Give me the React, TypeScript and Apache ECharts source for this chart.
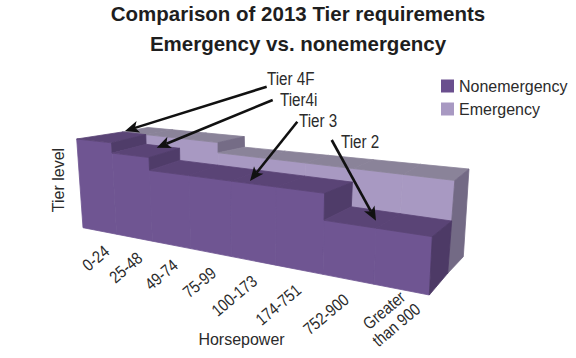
import React, { useEffect, useRef } from "react";
import * as echarts from "echarts";

const titleLines = ["Comparison of 2013 Tier requirements", "Emergency vs. nonemergency"];
const horsepower = ["0-24", "25-48", "49-74", "75-99", "100-173", "174-751", "752-900", "Greater\nthan 900"];
const nonemergency = [4, 3.55, 3, 3, 3, 3, 2, 2];
const emergency = [4, 4, 4, 3.55, 3.55, 3.55, 3.55, 3.55];
const LEVEL_MAX = 4;
const FONT = "'Liberation Sans', Arial, sans-serif";
const INK = "#2b2b2b";

// perspective of the three depth planes (front of the first block, shared middle wall, back of the second block)
type P = [number, number];
const planes: { warp: (t: number) => number; a: P; b: P; c: P; d: P }[] = [
  { warp: (t) => t / (1.33 - 0.33 * t), a: [83, 227.7], b: [76.7, 139], c: [429.3, 295], d: [435.3, 178.4] },
  { warp: (t) => Math.pow(t, 1.27), a: [125.5, 217], b: [122, 132], c: [447.7, 273.3], d: [455.7, 168.7] },
  { warp: (t) => Math.pow(t, 1.23), a: [154, 220], b: [148, 127.5], c: [463.3, 256.7], d: [469.7, 157.9] },
];
const project = (depth: number, t: number, v: number): P => {
  const k = planes[depth];
  const f = k.warp(t);
  const l = [k.a[0] + (k.b[0] - k.a[0]) * v, k.a[1] + (k.b[1] - k.a[1]) * v];
  const r = [k.c[0] + (k.d[0] - k.c[0]) * v, k.c[1] + (k.d[1] - k.c[1]) * v];
  return [l[0] + (r[0] - l[0]) * f, l[1] + (r[1] - l[1]) * f];
};

const blockItem = (near: number, far: number, col: { front: string; top: string; riser: string; side: string }) => (params: any, api: any) => {
  const cs = params.coordSys;
  const half = api.size([1, 0])[0] / 2;
  const base = cs.y + cs.height;
  const toT = (px: number) => (px - cs.x) / cs.width;
  const toV = (py: number) => (base - py) / cs.height;
  const i = api.value(0);
  const cx = api.coord([i, 0])[0];
  const t0 = toT(cx - half);
  const t1 = toT(cx + half);
  const v = toV(api.coord([i, api.value(1)])[1]);
  const nv = toV(api.coord([i, api.value(2)])[1]);
  const poly = (points: P[], fill: string) => ({
    type: "polygon",
    shape: { points },
    style: { fill, stroke: fill, lineWidth: 0.8 },
  });
  const children: any[] = [
    poly([project(near, t0, 0), project(near, t1, 0), project(near, t1, v), project(near, t0, v)], col.front),
    poly([project(near, t0, v), project(near, t1, v), project(far, t1, v), project(far, t0, v)], col.top),
  ];
  if (nv < v && nv > 0) {
    children.push(poly([project(near, t1, v), project(far, t1, v), project(far, t1, nv), project(near, t1, nv)], col.riser));
  }
  if (nv === 0) {
    children.push(poly([project(near, t1, v), project(far, t1, v), project(far, t1, 0), project(near, t1, 0)], col.side));
  }
  return { type: "group", children };
};

const labelItem = (params: any, api: any) => {
  const cs = params.coordSys;
  const i = api.value(0);
  const t = (api.coord([i, 0])[0] - cs.x) / cs.width;
  const [bx, by] = project(0, t, 0);
  const text = horsepower[i];
  const two = text.includes("\n");
  return {
    type: "text",
    x: two ? bx - 11 : bx + 12 * (1 - t) - 4,
    y: two ? by + 28 : by + 18,
    rotation: (40 * Math.PI) / 180,
    scaleX: 0.85,
    style: { text, align: two ? "center" : "right", verticalAlign: "middle", font: `17px ${FONT}`, fill: INK, lineHeight: 19 },
  };
};

const arrows: { label: string; tx: number; ty: number; from: P; to: P }[] = [
  { label: "Tier 4F", tx: 267, ty: 78, from: [266.7, 86.7], to: [125, 131] },
  { label: "Tier4i", tx: 280, ty: 99, from: [272.7, 100], to: [156.7, 147.7] },
  { label: "Tier 3", tx: 299, ty: 120, from: [297.3, 121.7], to: [250, 181] },
  { label: "Tier 2", tx: 341, ty: 141, from: [331.7, 140], to: [376, 220.7] },
];

const arrowGraphics = () => {
  const out: any[] = [];
  arrows.forEach(({ label, tx, ty, from, to }) => {
    const dx = to[0] - from[0];
    const dy = to[1] - from[1];
    const len = Math.hypot(dx, dy);
    const ux = dx / len;
    const uy = dy / len;
    const head = 14;
    const wing = 6;
    const neck: P = [to[0] - ux * head * 0.75, to[1] - uy * head * 0.75];
    out.push({ type: "line", silent: true, shape: { x1: from[0], y1: from[1], x2: neck[0], y2: neck[1] }, style: { stroke: "#111", lineWidth: 2.6 } });
    out.push({
      type: "polygon",
      silent: true,
      shape: {
        points: [
          to,
          [to[0] - ux * head - uy * wing, to[1] - uy * head + ux * wing],
          neck,
          [to[0] - ux * head + uy * wing, to[1] - uy * head - ux * wing],
        ],
      },
      style: { fill: "#111" },
    });
    out.push({ type: "text", x: tx, y: ty, scaleX: 0.8, silent: true, style: { text: label, font: `19px ${FONT}`, fill: INK, align: "left", verticalAlign: "middle" } });
  });
  return out;
};

const rows = (vals: number[]) => vals.map((v, i) => [i, v, i + 1 < vals.length ? vals[i + 1] : 0]);

export default function App() {
  const ref = useRef<HTMLDivElement>(null);
  useEffect(() => {
    const chart = echarts.init(ref.current!, undefined, { renderer: "svg" });
    chart.setOption({
      animation: false,
      backgroundColor: "#ffffff",
      title: {
        text: titleLines.join("\n"),
        left: 298,
        top: -2,
        padding: 0,
        textAlign: "center",
        textStyle: { fontFamily: FONT, fontWeight: "bold", fontSize: 20.5, lineHeight: 30, color: "#1e1e1e" },
      },
      legend: {
        data: ["Nonemergency", "Emergency"],
        left: 436,
        top: 73,
        orient: "vertical",
        icon: "rect",
        itemWidth: 13,
        itemHeight: 13,
        itemGap: 7,
        itemStyle: { borderWidth: 0 },
        textStyle: { fontFamily: FONT, fontSize: 16, color: INK },
      },
      grid: { left: 68, right: 161, top: 110, height: 140 },
      xAxis: {
        type: "category",
        data: horsepower,
        name: "Horsepower",
        nameLocation: "middle",
        nameGap: 81,
        nameTextStyle: { fontFamily: FONT, fontSize: 16, color: INK },
        axisLine: { show: false },
        axisTick: { show: false },
        axisLabel: { show: false },
      },
      yAxis: {
        type: "value",
        min: 0,
        max: LEVEL_MAX,
        name: "Tier level",
        nameLocation: "middle",
        nameRotate: 90,
        nameGap: 2,
        nameTextStyle: { fontFamily: FONT, fontSize: 16, color: INK },
        splitLine: { show: false },
        axisLine: { show: false },
        axisTick: { show: false },
        axisLabel: { show: false },
      },
      series: [
        {
          type: "custom",
          name: "Emergency",
          z: 2,
          silent: true,
          itemStyle: { color: "#a899c2" },
          data: rows(emergency),
          encode: { x: 0, y: 1 },
          renderItem: blockItem(1, 2, { front: "#a899c2", top: "#8a8399", riser: "#756c86", side: "#736a85" }),
        },
        {
          type: "custom",
          name: "Nonemergency",
          z: 3,
          silent: true,
          itemStyle: { color: "#6a4f8e" },
          data: rows(nonemergency),
          encode: { x: 0, y: 1 },
          renderItem: blockItem(0, 1, { front: "#6f5592", top: "#5a4476", riser: "#4f3c69", side: "#4d3a66" }),
        },
        {
          type: "custom",
          name: "labels",
          z: 4,
          silent: true,
          data: horsepower.map((_, i) => [i, 0]),
          encode: { x: 0, y: 1 },
          renderItem: labelItem,
        },
      ],
      graphic: { elements: arrowGraphics().map((e) => ({ ...e, z: 10 })) },
    });
    return () => chart.dispose();
  }, []);
  return <div ref={ref} style={{ position: "absolute", left: 0, top: 0, width: 576, height: 358 }} />;
}
